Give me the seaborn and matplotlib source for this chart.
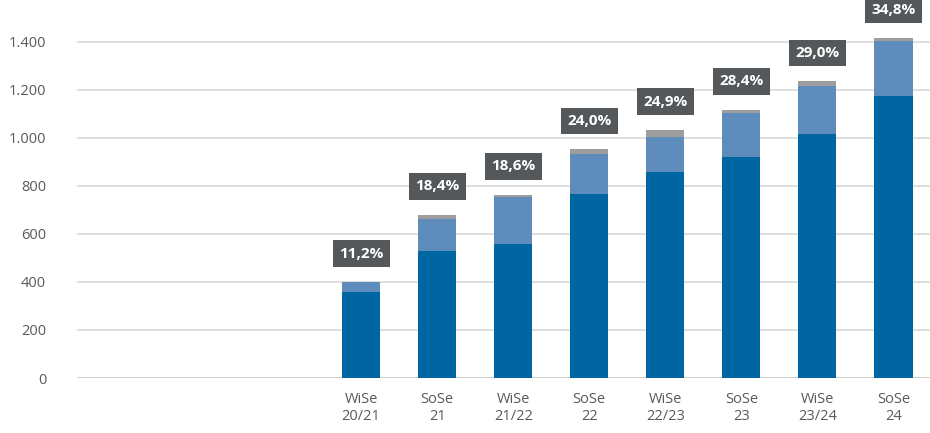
import matplotlib
matplotlib.use("Agg")
import matplotlib.pyplot as plt
import seaborn as sns
import numpy as np
import pandas as pd

semesters = ["WiSe\n20/21", "SoSe\n21", "WiSe\n21/22", "SoSe\n22",
             "WiSe\n22/23", "SoSe\n23", "WiSe\n23/24", "SoSe\n24"]
dark_vals = [356, 530, 559, 766, 859, 920, 1017, 1174]
light_vals = [42, 133, 195, 168, 145, 184, 200, 229]
gray_vals = [0, 17, 8, 17, 28, 13, 17, 11]
shares = ["11,2%", "18,4%", "18,6%", "24,0%", "24,9%", "28,4%", "29,0%", "34,8%"]

DARK = "#0066a1"
LIGHT = "#5e8dbb"
GRAY = "#9d9d9d"
BOX = "#54585a"
TXT = "#595959"

sns.set_theme(style="white")
plt.rcParams["font.family"] = ["Open Sans", "DejaVu Sans"]

df = pd.DataFrame({"semester": semesters, "dark": dark_vals,
                   "light": light_vals, "gray": gray_vals})
df["top_light"] = df["dark"] + df["light"]
df["total"] = df["top_light"] + df["gray"]

fig = plt.figure(figsize=(9.3, 4.33), dpi=100)
ax = fig.add_axes([76.7 / 930, 55 / 433, 1 - 76.7 / 930, 378 / 433])

# stacked by overdrawing cumulative sums
for col, c in [("total", GRAY), ("top_light", LIGHT), ("dark", DARK)]:
    sns.barplot(data=df, x="semester", y=col, color=c, saturation=1,
                width=0.5, linewidth=0, ax=ax, zorder=3)

for i, (tot, lab) in enumerate(zip(df["total"], shares)):
    ax.annotate(lab, (i, tot), xytext=(0, 20.5), textcoords="offset points",
                ha="center", va="center", color="white", fontsize=11,
                fontweight="bold", clip_on=False, zorder=5,
                bbox=dict(boxstyle="square,pad=0.42", fc=BOX, ec="none"))

ax.set_xlim(-3.74, 7.48)
ax.set_ylim(0, 1573)
ax.set_yticks(range(0, 1401, 200))
ax.set_yticklabels([f"{v:,}".replace(",", ".") for v in range(0, 1401, 200)])
ax.yaxis.grid(True, color="#d9d9d9", linewidth=1.2, zorder=0)
ax.set_axisbelow(True)
for s in ax.spines.values():
    s.set_visible(False)
ax.axhline(0, color="#d0d0d0", linewidth=1.3, zorder=1)
ax.tick_params(axis="y", length=0, pad=22, labelsize=10.5, labelcolor=TXT)
ax.tick_params(axis="x", length=0, pad=10, labelsize=10.5, labelcolor=TXT)
ax.set_xlabel("")
ax.set_ylabel("")

fig.savefig("out.png", dpi=100)
